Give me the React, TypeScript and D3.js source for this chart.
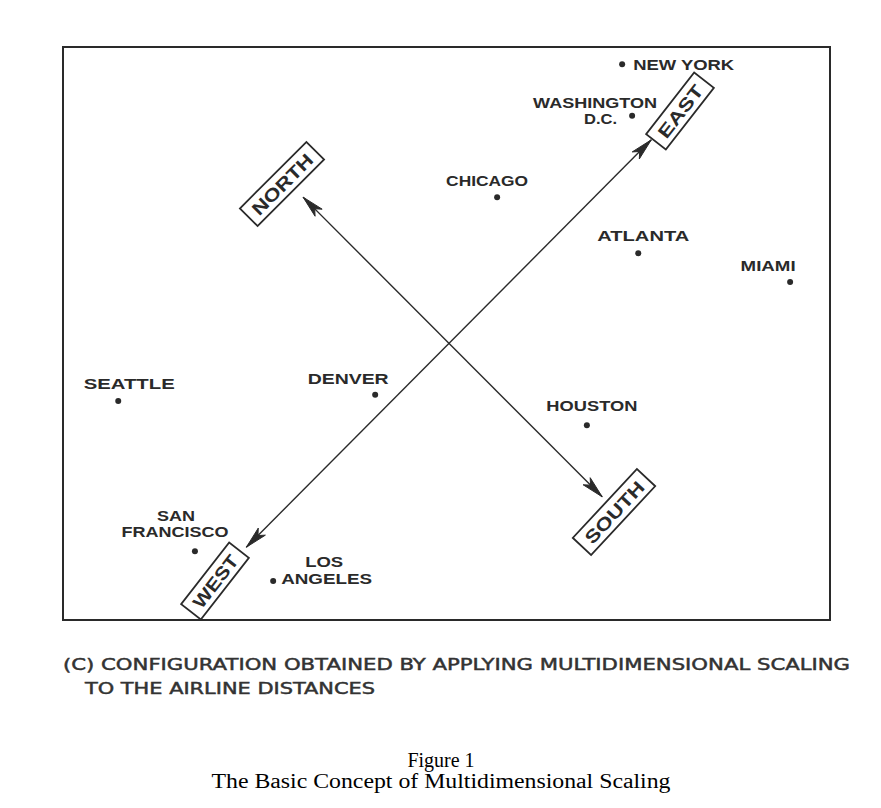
import React from 'react';
import * as d3 from 'd3';

const width = 881;
const height = 808;
const frame = { left: 63, top: 47, right: 830, bottom: 620 };

// MDS configuration, arbitrary units (0..100 on both dimensions)
const cities = ['NEW YORK', 'WASHINGTON D.C.', 'CHICAGO', 'ATLANTA', 'MIAMI', 'SEATTLE', 'DENVER', 'HOUSTON', 'SAN FRANCISCO', 'LOS ANGELES'];
const dimX = [72.9, 74.2, 56.6, 75.0, 94.8, 7.2, 40.7, 68.3, 17.2, 27.4];
const dimY = [97.0, 88.0, 73.8, 64.0, 59.0, 38.2, 39.3, 34.0, 12.0, 6.8];

// direction arrows: tips in the same units
const directions = ['NORTH', 'SOUTH', 'EAST', 'WEST'];
const dirX = [31.3, 70.3, 76.7, 23.9];
const dirY = [73.8, 21.5, 83.8, 12.7];

// label placement (text, dx, dy from the dot, anchor, width)
const labelLayout = {
  'NEW YORK': [['NEW YORK', 11, 6, 'start', 101]],
  'WASHINGTON D.C.': [['WASHINGTON', 25, -8, 'end', 124], ['D.C.', -15, 8, 'end', 33]],
  'CHICAGO': [['CHICAGO', -10, -11, 'middle', 82]],
  'ATLANTA': [['ATLANTA', 5, -12, 'middle', 92]],
  'MIAMI': [['MIAMI', -22, -11, 'middle', 55]],
  'SEATTLE': [['SEATTLE', 11, -12, 'middle', 91]],
  'DENVER': [['DENVER', -27, -11, 'middle', 81]],
  'HOUSTON': [['HOUSTON', 5, -14, 'middle', 91]],
  'SAN FRANCISCO': [['SAN', -19, -30, 'middle', 38], ['FRANCISCO', -20, -14, 'middle', 107]],
  'LOS ANGELES': [['LOS', 51, -14, 'middle', 38], ['ANGELES', 8, 3, 'start', 91]],
};

const dirBoxes = {
  NORTH: { cx: 282, cy: 184, angle: -45, w: 94 },
  SOUTH: { cx: 614, cy: 512, angle: -47, w: 94 },
  EAST: { cx: 680, cy: 111, angle: -52, w: 78 },
  WEST: { cx: 215, cy: 581, angle: -52, w: 78 },
};

const ink = '#2a2a2a';
const labelFont = '"Liberation Sans", Arial, sans-serif';

const Arrow = ({ x1, y1, x2, y2 }) => {
  const ang = Math.atan2(y2 - y1, x2 - x1);
  const len = 22;
  const half = 5;
  const bx = x2 - len * Math.cos(ang);
  const by = y2 - len * Math.sin(ang);
  const px = -Math.sin(ang) * half;
  const py = Math.cos(ang) * half;
  const nx = x2 - (len * 0.75) * Math.cos(ang);
  const ny = y2 - (len * 0.75) * Math.sin(ang);
  const head = d3.path();
  head.moveTo(x2, y2);
  head.lineTo(bx + px, by + py);
  head.lineTo(nx, ny);
  head.lineTo(bx - px, by - py);
  head.closePath();
  return <path d={head.toString()} fill={ink} stroke={ink} strokeWidth={1} strokeLinejoin="round" />;
};

const App = () => {
  const xScale = d3.scaleLinear().domain([0, 100]).range([frame.left, frame.right]);
  const yScale = d3.scaleLinear().domain([0, 100]).range([frame.bottom, frame.top]);

  const pts = cities.map((c, i) => ({ name: c, x: xScale(dimX[i]), y: yScale(dimY[i]) }));
  const dirPts = directions.map((d, i) => ({ name: d, x: xScale(dirX[i]), y: yScale(dirY[i]) }));
  const byName = Object.fromEntries(dirPts.map(p => [p.name, p]));

  const axes = [['NORTH', 'SOUTH'], ['EAST', 'WEST']];

  return (
    <svg width={width} height={height} style={{ position: 'absolute', left: 0, top: 0, background: '#fff' }}>
      <rect
        x={frame.left}
        y={frame.top}
        width={frame.right - frame.left}
        height={frame.bottom - frame.top}
        fill="none"
        stroke={ink}
        strokeWidth={2}
      />

      {axes.map(([a, b]) => {
        const p = byName[a];
        const q = byName[b];
        return (
          <g key={a}>
            <line x1={p.x} y1={p.y} x2={q.x} y2={q.y} stroke={ink} strokeWidth={1.4} />
            <Arrow x1={q.x} y1={q.y} x2={p.x} y2={p.y} />
            <Arrow x1={p.x} y1={p.y} x2={q.x} y2={q.y} />
          </g>
        );
      })}

      {directions.map(d => {
        const b = dirBoxes[d];
        return (
          <g key={d} transform={`translate(${b.cx},${b.cy}) rotate(${b.angle})`}>
            <rect x={-b.w / 2} y={-12.5} width={b.w} height={25} fill="#fff" stroke={ink} strokeWidth={1.8} />
            <text
              textAnchor="middle"
              y={7}
              fontFamily={labelFont}
              fontWeight="bold"
              fontSize={18}
              fill={ink}
              textLength={b.w - 16}
              lengthAdjust="spacingAndGlyphs"
            >
              {d}
            </text>
          </g>
        );
      })}

      {pts.map(p => (
        <g key={p.name}>
          <circle cx={p.x} cy={p.y} r={3} fill={ink} />
          {labelLayout[p.name].map(([t, dx, dy, anchor, w]) => (
            <text
              key={t}
              x={p.x + dx}
              y={p.y + dy}
              textAnchor={anchor}
              fontFamily={labelFont}
              fontWeight="bold"
              fontSize={15}
              fill={ink}
              textLength={w}
              lengthAdjust="spacingAndGlyphs"
            >
              {t}
            </text>
          ))}
        </g>
      ))}

      <g fontFamily='"DejaVu Sans", sans-serif' fontSize={15} fill="#333" stroke="#333" strokeWidth={0.45}>
        <text x={63} y={670} textLength={787} lengthAdjust="spacingAndGlyphs">
          (C) CONFIGURATION OBTAINED BY APPLYING MULTIDIMENSIONAL SCALING
        </text>
        <text x={85} y={694} textLength={290} lengthAdjust="spacingAndGlyphs">
          TO THE AIRLINE DISTANCES
        </text>
      </g>

      <text x={441} y={767} textAnchor="middle" fontFamily='"Liberation Serif", "Times New Roman", serif' fontSize={20} fill="#000">
        Figure 1
      </text>
      <text x={441} y={788} textAnchor="middle" fontFamily='"Liberation Serif", "Times New Roman", serif' fontSize={20} fill="#000"
        textLength={459} lengthAdjust="spacingAndGlyphs">
        The Basic Concept of Multidimensional Scaling
      </text>
    </svg>
  );
};

export default App;
